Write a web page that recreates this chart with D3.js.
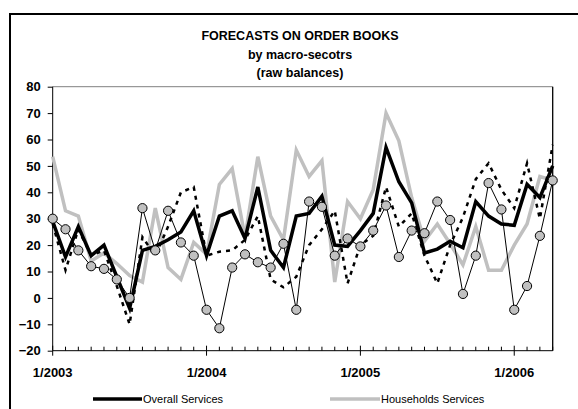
<!DOCTYPE html>
<html><head><meta charset="utf-8">
<script src="https://cdn.jsdelivr.net/npm/d3@7"></script>
<style>
html,body{margin:0;padding:0;background:#fff;}
svg{display:block;font-family:"Liberation Sans",Arial,sans-serif;}
</style></head>
<body><svg id="c" width="578" height="409"></svg>
<script>
const months = ["1/2003","2/2003","3/2003","4/2003","5/2003","6/2003","7/2003","8/2003","9/2003","10/2003","11/2003","12/2003",
"1/2004","2/2004","3/2004","4/2004","5/2004","6/2004","7/2004","8/2004","9/2004","10/2004","11/2004","12/2004",
"1/2005","2/2005","3/2005","4/2005","5/2005","6/2005","7/2005","8/2005","9/2005","10/2005","11/2005","12/2005",
"1/2006","2/2006","3/2006","4/2006"];
const xTickLabels = ["1/2003","1/2004","1/2005","1/2006"];
const yTicks = [-20,-10,0,10,20,30,40,50,60,70,80];
const titleLines = ["FORECASTS ON ORDER BOOKS","by macro-secotrs","(raw balances)"];

const overallServices = [29,15.5,27,16,20,8,-4,18,19.5,22,25,33,16,31,33,22.5,42,18,11.5,31,32,38.5,20,19.5,25.5,32,57,44,36,17,18.5,21.5,19,36.5,31,28,27.5,43,38,50];
const householdsServices = [53.5,33,31,14,17,13,8.5,6,34,11.5,7,21,16.5,43,49,23,53.5,31,22,56,46,52,6,36.5,30,41,70,59.5,38,21.5,28,20.5,12.5,27,10.5,10.5,20,28,46,44.5];
const dashedSeries = [28,10.5,26,16,18,4.5,-10,23,16,27,40,42,16,17.5,18,22,31,7,4,8,20,26,33,5.5,20,23.5,42,27,32,16,5.5,20,30.5,45,51,41,34,51,30,58];
const markerSeries = [30,26,18,12,11,7,0,34,18,33,21,16,-4.5,-11.5,11.5,16.5,13.5,11.5,20.5,-4.5,36.5,34.5,16,22.5,19.5,25.5,35,15.5,25.5,24.5,36.5,29.5,1.5,16,43.5,33.5,-4.5,4.5,23.5,44.5];

const svg = d3.select("#c");
const L = 52.7, R = 552.7, T = 86.7, B = 350.7;
const x = d3.scalePoint().domain(months).range([L, R]).padding(0);
const y = d3.scaleLinear().domain([-20, 80]).range([B, T]);

// outer frame
svg.append("rect").attr("x",10).attr("y",14).attr("width",600).attr("height",420)
  .attr("fill","none").attr("stroke","#000").attr("stroke-width",2);

// title
const title = svg.append("text").attr("text-anchor","middle").attr("font-weight","bold").attr("font-size",12.5).attr("fill","#000");
titleLines.forEach((t,i)=> title.append("tspan").attr("x",300).attr("y",[40,59,77][i]).text(t));

// plot border (top/right)
svg.append("line").attr("x1",L).attr("x2",R).attr("y1",T).attr("y2",T).attr("stroke","#808080").attr("stroke-width",1);
svg.append("line").attr("x1",R).attr("x2",R).attr("y1",T).attr("y2",B).attr("stroke","#000").attr("stroke-width",1.3);

// y axis
const yAxis = d3.axisLeft(y).tickValues(yTicks).tickSize(5).tickPadding(7).tickFormat(d3.format("d"));
const gy = svg.append("g").attr("transform",`translate(${L},0)`).call(yAxis);
gy.select(".domain").attr("stroke","#000").attr("d",`M0,${T}V${B}`);
gy.selectAll("text").attr("font-size",13).attr("font-weight","bold").attr("font-family","Liberation Sans, Arial, sans-serif").attr("fill","#000");

// x axis: minor ticks inside
const gx = svg.append("g").attr("transform",`translate(0,${B})`);
gx.append("line").attr("x1",L).attr("x2",R).attr("stroke","#000");
gx.selectAll("line.minor").data(months).enter().append("line").attr("class","minor")
  .attr("x1",d=>x(d)).attr("x2",d=>x(d)).attr("y1",0).attr("y2",d=>xTickLabels.includes(d)?-5:-4).attr("stroke","#000");
gx.selectAll("line.major").data(xTickLabels).enter().append("line").attr("class","major")
  .attr("x1",d=>x(d)).attr("x2",d=>x(d)).attr("y1",0).attr("y2",5).attr("stroke","#000");
gx.selectAll("text").data(xTickLabels).enter().append("text")
  .attr("x",d=>x(d)).attr("y",26).attr("text-anchor","middle").attr("font-size",13).attr("font-weight","bold").text(d=>d);

const line = d3.line().x((d,i)=>x(months[i])).y(d=>y(d));

svg.append("path").datum(householdsServices).attr("d",line).attr("fill","none").attr("stroke","#c0c0c0").attr("stroke-width",3.5).attr("stroke-linejoin","miter");
svg.append("path").datum(overallServices).attr("d",line).attr("fill","none").attr("stroke","#000").attr("stroke-width",3.5).attr("stroke-linejoin","miter");
svg.append("path").datum(dashedSeries).attr("d",line).attr("fill","none").attr("stroke","#000").attr("stroke-width",2.5).attr("stroke-dasharray","4,5");
svg.append("path").datum(markerSeries).attr("d",line).attr("fill","none").attr("stroke","#000").attr("stroke-width",1);
svg.selectAll("circle.m").data(markerSeries).enter().append("circle").attr("class","m")
  .attr("cx",(d,i)=>x(months[i])).attr("cy",d=>y(d)).attr("r",4.6)
  .attr("fill","#c0c0c0").attr("stroke","#000").attr("stroke-width",1);

// legend
const legend = [
  {name:"Overall Services", color:"#000", x1:93, x2:142},
  {name:"Households Services", color:"#c0c0c0", x1:330, x2:380}
];
legend.forEach(l=>{
  svg.append("line").attr("x1",l.x1).attr("x2",l.x2).attr("y1",399).attr("y2",399).attr("stroke",l.color).attr("stroke-width",3.5);
  svg.append("text").attr("x",l.x2+1).attr("y",403).attr("font-size",11).attr("fill","#000").text(l.name);
});
</script></body></html>
